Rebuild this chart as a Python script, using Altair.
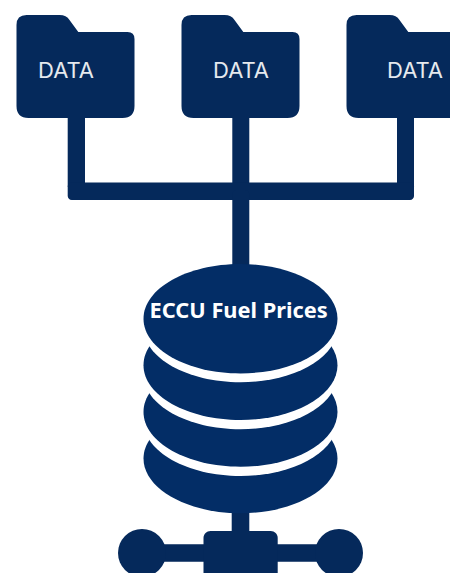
import altair as alt
import pandas as pd

NAVY = "#05295b"
DISK = "#032d66"
WHITE = "#ffffff"

# Pixel frame of the picture, used as the domain of both position scales
X_DOMAIN = [8, 450]
Y_DOMAIN = [573, 8]

# Diagram parts
folder_x = [75.5, 240.5, 405.5]
folder_y = [66.5, 66.5, 66.5]
data_label_x = [66, 241, 415]
data_label_y = [78, 78, 78]
data_labels = ["DATA", "DATA", "DATA"]

bar_x = [67.7, 232.3, 397, 67.7, 232.3, 231.7, 142]
bar_x2 = [85, 249.3, 414, 414, 249.3, 249.3, 339]
bar_y = [110, 110, 110, 182.5, 190, 505, 544.3]
bar_y2 = [190, 200, 190, 200, 275, 535, 561.7]

hub_x, hub_x2, hub_y, hub_y2 = [203.5], [277.7], [531], [580]

disk_y = [458.6, 421.3, 412, 374.6, 365.3, 327.6, 318.7]
disk_fill = [DISK, WHITE, DISK, WHITE, DISK, WHITE, DISK]
disk_x = [240.5] * len(disk_y)

node_x = [142, 339]
node_y = [553, 553]

title_x, title_y, title_text = [238.6], [318], ["ECCU Fuel Prices"]

k = 0.5523
ry = 54.7 / 97
ELLIPSE = (
    f"M-1,0 C-1,{-k*ry:.4f} {-k:.4f},{-ry:.4f} 0,{-ry:.4f} "
    f"C{k:.4f},{-ry:.4f} 1,{-k*ry:.4f} 1,0 "
    f"C1,{k*ry:.4f} {k:.4f},{ry:.4f} 0,{ry:.4f} "
    f"C{-k:.4f},{ry:.4f} -1,{k*ry:.4f} -1,0 Z"
)


def folder_path(u=59.0):
    p = lambda x, y: f"{x/u:.4f},{y/u:.4f}"
    return " ".join([
        "M" + p(-59, -41.5),
        "Q" + p(-59, -51.5) + " " + p(-49, -51.5),
        "L" + p(-16, -51.5),
        "Q" + p(-9, -51.5) + " " + p(-6, -46.5),
        "L" + p(2.8, -34.5),
        "L" + p(52, -34.5),
        "Q" + p(59, -34.5) + " " + p(59, -27.5),
        "L" + p(59, 39.5),
        "Q" + p(59, 51.5) + " " + p(47, 51.5),
        "L" + p(-47, 51.5),
        "Q" + p(-59, 51.5) + " " + p(-59, 39.5),
        "Z",
    ])


sx = alt.Scale(domain=X_DOMAIN, nice=False, zero=False)
sy = alt.Scale(domain=Y_DOMAIN, nice=False, zero=False)
X = lambda f: alt.X(f, type="quantitative", scale=sx, axis=None)
Y = lambda f: alt.Y(f, type="quantitative", scale=sy, axis=None)

bars = (
    alt.Chart(pd.DataFrame({"x": bar_x, "x2": bar_x2, "y": bar_y, "y2": bar_y2}))
    .mark_rect(color=NAVY, cornerRadius=4, clip=True)
    .encode(x=X("x"), x2="x2", y=Y("y"), y2="y2")
)
hub = (
    alt.Chart(pd.DataFrame({"x": hub_x, "x2": hub_x2, "y": hub_y, "y2": hub_y2}))
    .mark_rect(color=NAVY, cornerRadius=7, clip=True)
    .encode(x=X("x"), x2="x2", y=Y("y"), y2="y2")
)
folders = (
    alt.Chart(pd.DataFrame({"x": folder_x, "y": folder_y}))
    .mark_point(shape=folder_path(), size=118 ** 2, filled=True, fill=NAVY, opacity=1, strokeWidth=0, clip=True)
    .encode(x=X("x"), y=Y("y"))
)
disks = (
    alt.Chart(pd.DataFrame({"x": disk_x, "y": disk_y, "fill": disk_fill}))
    .mark_point(shape=ELLIPSE, size=194 ** 2, filled=True, opacity=1, strokeWidth=0, clip=True)
    .encode(x=X("x"), y=Y("y"), fill=alt.Fill("fill:N", scale=None))
)
nodes = (
    alt.Chart(pd.DataFrame({"x": node_x, "y": node_y}))
    .mark_point(shape="circle", size=48 ** 2, filled=True, fill=NAVY, opacity=1, strokeWidth=0, clip=True)
    .encode(x=X("x"), y=Y("y"))
)
folder_text = (
    alt.Chart(pd.DataFrame({"x": data_label_x, "y": data_label_y, "t": data_labels}))
    .mark_text(font="Inter", fontSize=22, color="#e6e9ee", align="center", baseline="alphabetic")
    .encode(x=X("x"), y=Y("y"), text="t:N")
)
title = (
    alt.Chart(pd.DataFrame({"x": title_x, "y": title_y, "t": title_text}))
    .mark_text(font="Noto Sans", fontWeight="bold", fontSize=21.8, color="#ffffff", align="center", baseline="alphabetic")
    .encode(x=X("x"), y=Y("y"), text="t:N")
)

chart = (
    alt.layer(bars, hub, nodes, folders, disks, folder_text, title)
    .properties(width=442, height=565, autosize=alt.AutoSizeParams(type="none"), padding=0, background="white")
    .configure_view(stroke=None)
)
chart.save("out.html", embed_options={"renderer": "svg", "actions": False})
